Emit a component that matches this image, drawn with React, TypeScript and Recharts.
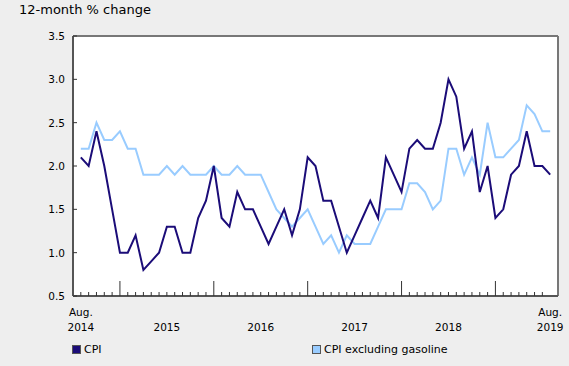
import React from 'react';
import { LineChart, Line, XAxis, YAxis, CartesianGrid, ReferenceLine } from 'recharts';

// monthly, Aug. 2014 to Aug. 2019
const startYear = 2014;
const startMonth = 7; // August (0-based)

const cpi = [
  2.1, 2.0, 2.4, 2.0, 1.5, 1.0, 1.0, 1.2, 0.8, 0.9, 1.0, 1.3, 1.3, 1.0, 1.0, 1.4, 1.6, 2.0, 1.4, 1.3,
  1.7, 1.5, 1.5, 1.3, 1.1, 1.3, 1.5, 1.2, 1.5, 2.1, 2.0, 1.6, 1.6, 1.3, 1.0, 1.2, 1.4, 1.6, 1.4, 2.1,
  1.9, 1.7, 2.2, 2.3, 2.2, 2.2, 2.5, 3.0, 2.8, 2.2, 2.4, 1.7, 2.0, 1.4, 1.5, 1.9, 2.0, 2.4, 2.0, 2.0,
  1.9,
];

const cpiExGasoline = [
  2.2, 2.2, 2.5, 2.3, 2.3, 2.4, 2.2, 2.2, 1.9, 1.9, 1.9, 2.0, 1.9, 2.0, 1.9, 1.9, 1.9, 2.0, 1.9, 1.9,
  2.0, 1.9, 1.9, 1.9, 1.7, 1.5, 1.4, 1.3, 1.4, 1.5, 1.3, 1.1, 1.2, 1.0, 1.2, 1.1, 1.1, 1.1, 1.3, 1.5,
  1.5, 1.5, 1.8, 1.8, 1.7, 1.5, 1.6, 2.2, 2.2, 1.9, 2.1, 1.9, 2.5, 2.1, 2.1, 2.2, 2.3, 2.7, 2.6, 2.4,
  2.4,
];

const yTicks = [0.5, 1.0, 1.5, 2.0, 2.5, 3.0, 3.5];

const data = cpi.map((v, i) => ({ i, cpi: v, exGas: cpiExGasoline[i] }));
const xTicks = data.map((d) => d.i);
const lastIdx = data.length - 1;

const FONT = '"DejaVu Sans", Verdana, sans-serif';
const DARK = '#1b0c78';
const LIGHT = '#99ccff';

const monthOf = (i: number) => (startMonth + i) % 12;
const yearOf = (i: number) => startYear + Math.floor((startMonth + i) / 12);

const XTick = (props: any) => {
  const { x, y, payload } = props;
  const i = payload.value as number;
  const m = monthOf(i);
  const last = i === lastIdx;
  const tickLen = m === 0 ? 15 : 4;
  let label: React.ReactNode = null;
  if (i === 0 || last) {
    label = (
      <text x={x} textAnchor="middle" fontSize={10.5} fontFamily={FONT} fill="#000">
        <tspan x={x} y={y + 20}>Aug.</tspan>
        <tspan x={x} y={y + 35}>{yearOf(i)}</tspan>
      </text>
    );
  } else if (m === 6 && yearOf(i) !== yearOf(lastIdx)) {
    label = (
      <text x={x} y={y + 35} textAnchor="middle" fontSize={10.5} fontFamily={FONT} fill="#000">
        {yearOf(i)}
      </text>
    );
  }
  return (
    <g>
      {!last && <line x1={x} x2={x} y1={y} y2={y - tickLen} stroke="#333" strokeWidth={1} />}
      {label}
    </g>
  );
};

const YTick = (props: any) => {
  const { x, y, payload } = props;
  return (
    <g>
      <text x={x - 8} y={y + 4} textAnchor="end" fontSize={10.5} fontFamily={FONT} fill="#000">
        {payload.value.toFixed(1)}
      </text>
      <line x1={x} x2={x + 4} y1={y} y2={y} stroke="#333" strokeWidth={1} />
    </g>
  );
};

const LegendItem = ({ color, label, left }: { color: string; label: string; left: number }) => (
  <div style={{ position: 'absolute', left, top: 343, display: 'flex', alignItems: 'center' }}>
    <span
      style={{
        width: 7,
        height: 7,
        background: color,
        border: '1px solid #555',
        marginRight: 3,
      }}
    />
    <span style={{ fontSize: 11, fontFamily: FONT, color: '#000' }}>{label}</span>
  </div>
);

export default function App() {
  return (
    <div
      style={{
        position: 'absolute',
        left: 0,
        top: 0,
        width: 569,
        height: 366,
        background: '#eeeeee',
        overflow: 'hidden',
      }}
    >
      <div
        style={{ position: 'absolute', left: 19, top: 2, fontSize: 13, fontFamily: FONT, color: '#000' }}
      >
        12-month % change
      </div>
      <LineChart
        width={569}
        height={366}
        data={data}
        margin={{ top: 36, right: 11, left: 28, bottom: 30 }}
      >
        <CartesianGrid fill="#ffffff" horizontal={false} vertical={false} />
        <XAxis
          type="number"
          dataKey="i"
          domain={[-1, data.length]}
          ticks={xTicks}
          interval={0}
          tickLine={false}
          tickSize={0}
          tickMargin={0}
          height={40}
          axisLine={{ stroke: '#555', strokeWidth: 2 }}
          tick={<XTick />}
        />
        <YAxis
          type="number"
          domain={[0.5, 3.5]}
          ticks={yTicks}
          interval={0}
          width={45}
          tickLine={false}
          tickSize={0}
          tickMargin={0}
          axisLine={{ stroke: '#555', strokeWidth: 2 }}
          tick={<YTick />}
        />
        <ReferenceLine y={3.5} stroke="#777" strokeWidth={2} />
        <ReferenceLine x={data.length} stroke="#777" strokeWidth={2} />
        <Line
          type="linear"
          dataKey="exGas"
          stroke={LIGHT}
          strokeWidth={2}
          dot={false}
          isAnimationActive={false}
        />
        <Line
          type="linear"
          dataKey="cpi"
          stroke={DARK}
          strokeWidth={2}
          dot={false}
          isAnimationActive={false}
        />
      </LineChart>
      <LegendItem color={DARK} label="CPI" left={72} />
      <LegendItem color={LIGHT} label="CPI excluding gasoline" left={312} />
    </div>
  );
}
